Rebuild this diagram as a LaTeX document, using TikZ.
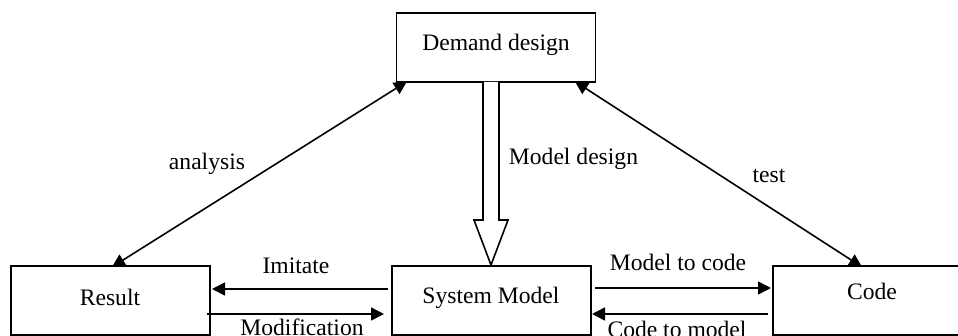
\documentclass[tikz,border=0pt]{standalone}
\usepackage{fontspec}
\setmainfont{Liberation Serif}
\usetikzlibrary{arrows.meta}
\tikzset{
  x=1pt,y=-1pt,
  boxnode/.style={draw=black,fill=white,line width=1.8pt,minimum width=199pt,minimum height=69pt,inner sep=0pt,font=\fontsize{23.6}{26}\selectfont},
  lab/.style={inner sep=0pt,font=\fontsize{23.6}{26}\selectfont,text=black},
  arr/.style={line width=1.6pt,-{Triangle[length=13pt,width=13pt]}},
  bothway/.style={line width=1.6pt,{Triangle[length=13pt,width=13pt]}-{Triangle[length=13pt,width=13pt]}},
  hollow/.style={line width=1.6pt,fill=white,line join=miter}
}
\begin{document}
\begin{tikzpicture}
\useasboundingbox (0,0) rectangle (958,336);
\coordinate (dl) at (407,81.5);
\coordinate (dr) at (575,81.5);
\coordinate (rt) at (112,267);
\coordinate (ct) at (862,267);
\draw[bothway] (dl) -- (rt);
\draw[bothway] (dr) -- (ct);
\node[boxnode] (demand) at (496,47.5) {};
\node[lab] (demandt) at (496,45) {Demand design};
\node[boxnode] (result) at (110.5,300.5) {};
\node[lab] (resultt) at (110,297.5) {Result};
\node[boxnode] (system) at (491.5,300.5) {};
\node[lab] (systemt) at (491,297.5) {System Model};
\node[boxnode] (code) at (872.5,300.5) {};
\node[lab] (codet) at (872,291.5) {Code};
\coordinate (tip) at (491,265);
\draw[hollow] (483,82) -- (483,220) -- (474,220) -- (tip) -- (508,220) -- (499,220) -- (499,82);
\coordinate (ia) at (388,289);
\coordinate (ib) at (212,289);
\coordinate (ma) at (207,314);
\coordinate (mb) at (384,314);
\coordinate (ca) at (595,288);
\coordinate (cb) at (771,288);
\coordinate (da) at (768,314);
\coordinate (db) at (592,314);
\draw[arr] (ia) -- (ib);
\draw[arr] (ma) -- (mb);
\draw[arr] (ca) -- (cb);
\draw[arr] (da) -- (db);
\node[lab] at (296,266) {Imitate};
\node[lab] at (302,327) {Modification};
\node[lab] at (678,262) {Model to code};
\node[lab] at (677,329) {Code to model};
\node[lab] at (207,164) {analysis};
\node[lab] at (573.5,159) {Model design};
\node[lab] at (769,176) {test};
\end{tikzpicture}
\end{document}
